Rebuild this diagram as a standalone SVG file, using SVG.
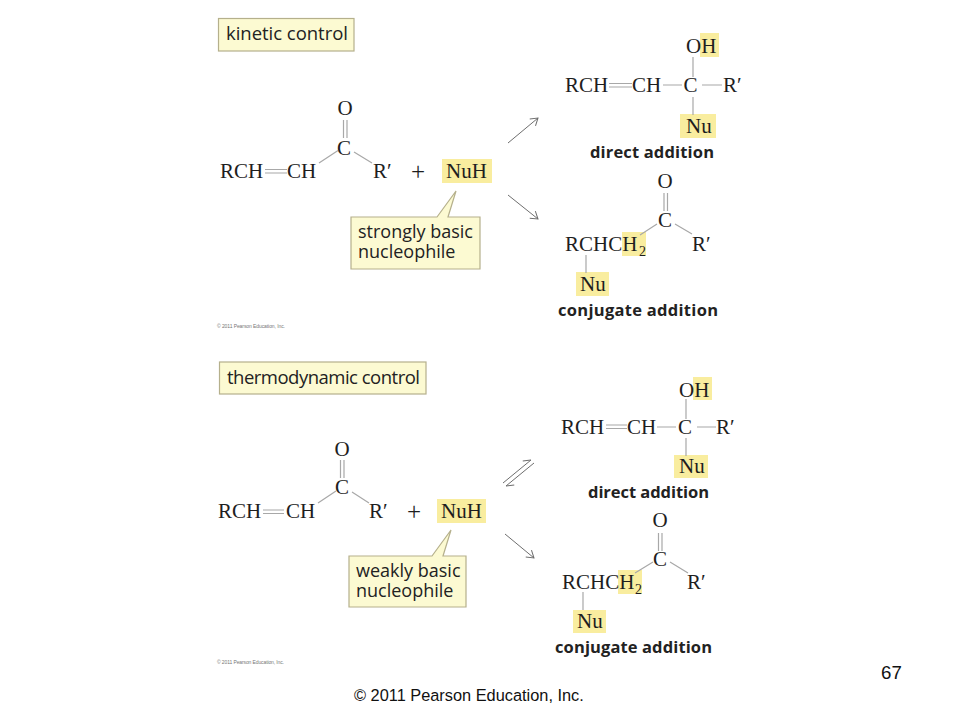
<svg xmlns="http://www.w3.org/2000/svg" width="960" height="720" viewBox="0 0 960 720">
<style>
text{fill:#1e1e1e}
.c{font-family:"Liberation Serif",serif;font-size:21px}
.sub{font-family:"Liberation Serif",serif;font-size:14px}
.p{font-family:"Liberation Serif",serif;font-size:25px;text-anchor:middle}
.m{text-anchor:middle}
.s{font-family:"Open Sans","Noto Sans",sans-serif;font-size:18.5px;fill:#222}
.q{font-family:"Open Sans","Noto Sans",sans-serif;font-size:18px;fill:#222}
.b{font-family:"Open Sans","Noto Sans",sans-serif;font-size:16.5px;font-weight:700;fill:#222}
.t{font-family:"Liberation Sans",sans-serif;font-size:5px;fill:#777}
.f{font-family:"Liberation Sans",Arial,sans-serif;font-size:16.350px;fill:#111}
.n{font-family:"Liberation Sans",Arial,sans-serif;font-size:18.700px;fill:#111}
.box{fill:#fcfad2;stroke:#b5b08c;stroke-width:1.2}
.hl{fill:#f9ed9f}
.bond{stroke:#a8a8a8;stroke-width:1.2;fill:none}
.arr{stroke:#6e6e6e;stroke-width:1;fill:none}
</style>
<defs>
<marker id="head" markerWidth="12" markerHeight="12" refX="10" refY="6" orient="auto" markerUnits="userSpaceOnUse"><path d="M3 1.5L10 6L3 10.5" fill="none" stroke="#6e6e6e" stroke-width="1"/></marker>
<marker id="half" markerWidth="12" markerHeight="12" refX="10" refY="6" orient="auto" markerUnits="userSpaceOnUse"><path d="M3 1.5L10 6" fill="none" stroke="#6e6e6e" stroke-width="1"/></marker>
</defs>
<rect width="960" height="720" fill="#fff"/>

<g id="kinetic-label"><rect class="box" x="218.500" y="18.500" width="135.500" height="32.500"/><text class="s" x="226" y="40" textLength="122">kinetic control</text></g>

<g id="kinetic-reactant">
<rect class="hl" x="442" y="159" width="50" height="24"/>
<text class="c m" x="345" y="115">O</text><text class="c m" x="344" y="155">C</text>
<text class="c" x="220" y="178">RCH</text><text class="c" x="287" y="178">CH</text>
<text class="c" x="373" y="178">R′</text><text class="p" x="418" y="180">+</text>
<text class="c" x="446" y="178">NuH</text>
<path class="bond" d="M343.500 120V138M347 120V138M265 169.500H287M265 173H287M319 163L338 150.500M354 152L372 163"/>
</g>
<g id="kinetic-note">
<path class="box" d="M351 217H437L456 191L448 217H480V269H351Z"/>
<text class="q"><tspan x="358" y="238">strongly basic</tspan><tspan x="358" y="258">nucleophile</tspan></text>
</g>
<g id="kinetic-direct">
<rect class="hl" x="700" y="33" width="19" height="24"/><rect class="hl" x="680" y="114" width="36" height="24"/>
<text class="c" x="686" y="53">OH</text>
<text class="c" x="565" y="92">RCH</text><text class="c" x="632" y="92">CH</text><text class="c m" x="690.500" y="92">C</text><text class="c" x="723" y="92">R′</text>
<text class="c" x="686" y="133">Nu</text>
<path class="bond" d="M609 83.500H632M609 87H632M663 85H682M702 85H722M693 57V77M693 97V115"/>
<text class="b" x="590" y="158" textLength="124">direct addition</text>
</g>
<g id="kinetic-conjugate">
<rect class="hl" x="622" y="232" width="24" height="24"/><rect class="hl" x="576" y="272" width="33" height="24"/>
<text class="c m" x="665" y="188">O</text><text class="c m" x="665" y="227">C</text>
<text class="c" x="565" y="251">RCHCH</text><text class="sub" x="639" y="256">2</text>
<text class="c" x="692" y="251">R′</text><text class="c" x="580" y="291">Nu</text>
<path class="bond" d="M664 193V211M667.500 193V211M640 235L657 224M675 224L692 234M586 255V273"/>
<text class="b" x="558" y="316" textLength="160">conjugate addition</text>
</g>

<g id="thermo-label"><rect class="box" x="219.500" y="362" width="206.500" height="32"/><text class="s" x="227" y="384" textLength="193">thermodynamic control</text></g>
<g id="thermo-reactant">
<rect class="hl" x="437" y="499" width="49" height="24"/>
<text class="c m" x="342" y="456">O</text><text class="c m" x="342" y="494">C</text>
<text class="c" x="218" y="518">RCH</text><text class="c" x="286" y="518">CH</text>
<text class="c" x="369" y="518">R′</text><text class="p" x="414" y="520">+</text>
<text class="c" x="441" y="518">NuH</text>
<path class="bond" d="M340.500 460V478M344 460V478M263 510H284M263 513.500H284M318 503L336 491M352 492L369 503"/>
</g>
<g id="thermo-note">
<path class="box" d="M349 556H432L451 530L443 556H466V607H349Z"/>
<text class="q"><tspan x="356" y="577">weakly basic</tspan><tspan x="356" y="597">nucleophile</tspan></text>
</g>
<g id="thermo-direct">
<rect class="hl" x="693" y="377" width="19" height="23"/><rect class="hl" x="674" y="455" width="34" height="23"/>
<text class="c" x="679" y="397">OH</text>
<text class="c" x="561" y="434">RCH</text><text class="c" x="627" y="434">CH</text><text class="c m" x="685" y="434">C</text><text class="c" x="716" y="434">R′</text>
<text class="c" x="679" y="473">Nu</text>
<path class="bond" d="M606 425H627M606 428.500H627M657 427H676M697 427H716M686 399V419M686 438V456"/>
<text class="b" x="588" y="498" textLength="121">direct addition</text>
</g>
<g id="thermo-conjugate">
<rect class="hl" x="618" y="570" width="24" height="24"/><rect class="hl" x="573" y="610" width="33" height="23"/>
<text class="c m" x="660" y="527">O</text><text class="c m" x="660" y="566">C</text>
<text class="c" x="562" y="589">RCHCH</text><text class="sub" x="635" y="594">2</text>
<text class="c" x="687" y="589">R′</text><text class="c" x="577" y="628">Nu</text>
<path class="bond" d="M658.500 533V551M662 533V551M635 573L653 562M670 562L688 573M583 592V610"/>
<text class="b" x="555" y="653" textLength="157">conjugate addition</text>
</g>

<g id="connectors">
<path class="arr" marker-end="url(#head)" d="M508 143L538 118"/>
<path class="arr" marker-end="url(#head)" d="M508 195L538 219"/>
<path class="arr" marker-end="url(#half)" d="M503 483L531 460"/>
<path class="arr" marker-end="url(#half)" d="M534 463L506 486"/>
<path class="arr" marker-end="url(#head)" d="M505 534L534 558"/>
</g>

<g id="credits">
<text class="t" x="217" y="328" textLength="68">© 2011 Pearson Education, Inc.</text>
<text class="t" x="217" y="664" textLength="67">© 2011 Pearson Education, Inc.</text>
<text class="f" x="354" y="701">© 2011 Pearson Education, Inc.</text>
<text class="n" x="881" y="679">67</text>
</g>
</svg>
